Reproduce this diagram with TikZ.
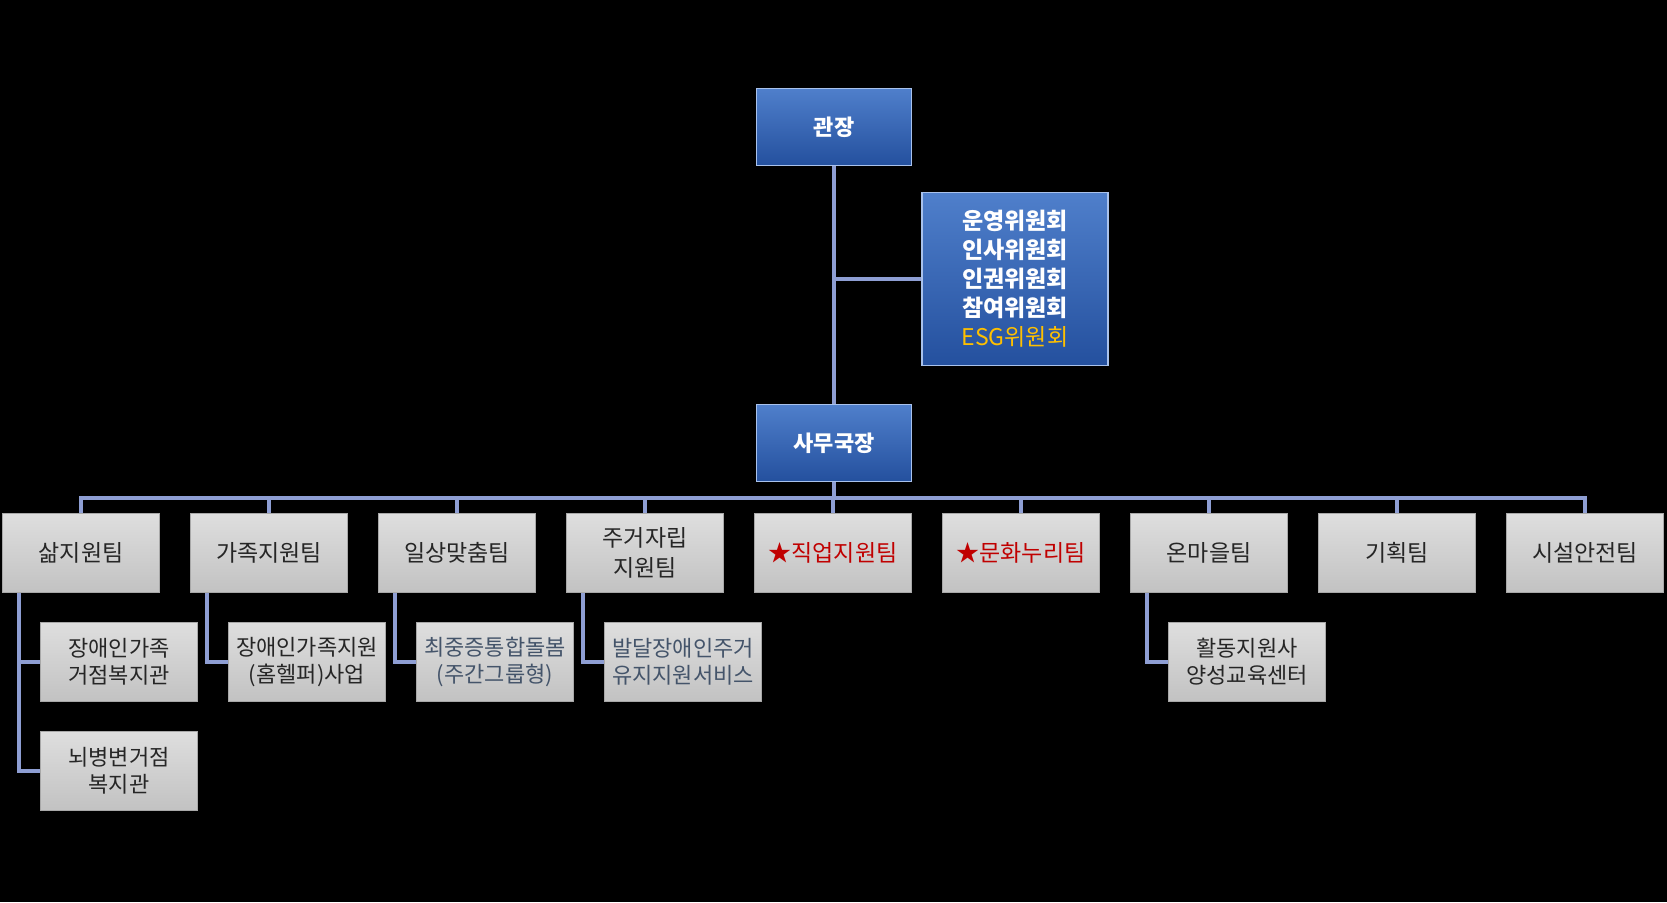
\documentclass[tikz,border=0pt]{standalone}
\usepackage{fontspec}
\setmainfont{Noto Sans CJK KR}
\usetikzlibrary{positioning,calc}
\definecolor{orgbg}{HTML}{000000}
\definecolor{bluetop}{HTML}{4F7FCB}
\definecolor{bluebot}{HTML}{24509E}
\definecolor{bluehl}{HTML}{A9C2EC}
\definecolor{greytop}{HTML}{DEDEDE}
\definecolor{greybot}{HTML}{C2C2C2}
\definecolor{greyedge}{HTML}{A8A8A8}
\definecolor{inkdark}{HTML}{262626}
\definecolor{starred}{HTML}{C00000}
\definecolor{slateink}{HTML}{44546A}
\definecolor{esggold}{HTML}{FFC000}
\definecolor{linkblue}{HTML}{8E9ED3}
\newcommand{\starb}[1]{{\color{starred}★#1}}
\tikzset{
  headbox/.style={draw=bluehl, line width=1.5pt, top color=bluetop, bottom color=bluebot,
                  inner sep=0pt, align=center, text=white,
                  font=\fontsize{22}{29}\selectfont\bfseries,
                  minimum width=155pt, minimum height=77pt},
  teambox/.style={draw=greyedge, line width=1pt, top color=greytop, bottom color=greybot,
                  inner sep=0pt, align=center, text=inkdark,
                  font=\fontsize{23}{30}\selectfont,
                  minimum width=157pt, minimum height=79pt},
  subbox/.style={teambox, font=\fontsize{22}{27}\selectfont},
  conn/.style={draw=linkblue, line width=4pt}}

\begin{document}
\begin{tikzpicture}[x=1pt, y=-1pt]
    \fill[orgbg] (0,0) rectangle (1667,902);
    % director, committees, secretariat
    \node[headbox] (head) at (834,127) {관장};
    \node[headbox, minimum width=186pt, minimum height=173pt, font=\fontsize{23}{29}\selectfont\bfseries] (board) at (1015,279)
      {운영위원회\\인사위원회\\인권위원회\\참여위원회\\{\color{esggold}\mdseries ESG위원회}};
    \node[headbox] (office) at (834,443) {사무국장};
    % teams
    \node[teambox] (life) at (81,553) {삶지원팀};
    \node[teambox, right=30pt of life] (family) {가족지원팀};
    \node[teambox, right=30pt of family] (daily) {일상맞춤팀};
    \node[teambox, right=30pt of daily] (housing) {주거자립\\지원팀};
    \node[teambox, right=30pt of housing] (job) {\starb{직업지원팀}};
    \node[teambox, right=30pt of job] (culture) {\starb{문화누리팀}};
    \node[teambox, right=30pt of culture] (village) {온마을팀};
    \node[teambox, right=30pt of village] (plan) {기획팀};
    \node[teambox, right=30pt of plan] (safety) {시설안전팀};
    % centres under the teams
    \node[subbox, below=29pt of life, xshift=38pt] (lifehub) {장애인가족\\거점복지관};
    \node[subbox, below=29pt of lifehub] (brainhub) {뇌병변거점\\복지관};
    \node[subbox, below=29pt of family, xshift=38pt] (homehelp) {장애인가족지원\\(홈헬퍼)사업};
    \node[subbox, below=29pt of daily, xshift=38pt, text=slateink] (carehub) {최중증통합돌봄\\(주간그룹형)};
    \node[subbox, below=29pt of housing, xshift=38pt, text=slateink] (devhouse) {발달장애인주거\\유지지원서비스};
    \node[subbox, below=29pt of village, xshift=38pt] (trainctr) {활동지원사\\양성교육센터};
    % connectors
    \coordinate (bus) at (834,498);
    \draw[conn] (head.south) -- (office.north);
    \draw[conn] (board.west) -- (board.west -| head.south);
    \draw[conn] (office.south) -- (bus);
    \draw[conn] (life.north) |- (bus) -| (safety.north);
    \draw[conn] (family.north) -- (family.north |- bus);
    \draw[conn] (daily.north) -- (daily.north |- bus);
    \draw[conn] (housing.north) -- (housing.north |- bus);
    \draw[conn] (job.north) -- (job.north |- bus);
    \draw[conn] (culture.north) -- (culture.north |- bus);
    \draw[conn] (village.north) -- (village.north |- bus);
    \draw[conn] (plan.north) -- (plan.north |- bus);
    \draw[conn] ([xshift=17pt]life.south west) |- (lifehub.west);
    \draw[conn] ([xshift=17pt]life.south west) |- (brainhub.west);
    \draw[conn] ([xshift=17pt]family.south west) |- (homehelp.west);
    \draw[conn] ([xshift=17pt]daily.south west) |- (carehub.west);
    \draw[conn] ([xshift=17pt]housing.south west) |- (devhouse.west);
    \draw[conn] ([xshift=17pt]village.south west) |- (trainctr.west);
  \end{tikzpicture}
\end{document}
